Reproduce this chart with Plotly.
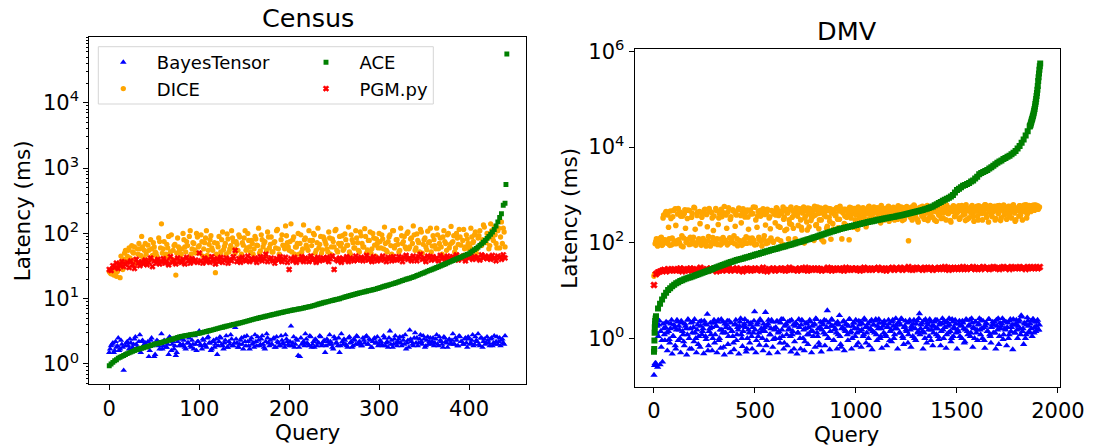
import plotly.graph_objects as go

W, H = 1093, 446

# ---------------- Census (queries 0..442) ----------------
census_query = list(range(0, 441, 2))
census_query_b = list(range(1, 440, 2))

census_bayestensor = [
    1.5, 1.9, 2.1, 1.6, 1.8, 2.5, 1.7, 2.0, 0.8, 1.9,
    2.2, 1.7, 2.1, 1.8, 2.4, 2.0, 1.6, 2.8, 2.2, 1.9,
    2.1, 1.8, 1.3, 2.3, 1.9, 1.3, 2.0, 2.2, 1.7, 2.9,
    1.9, 2.1, 1.8, 1.4, 2.5, 2.0, 1.7, 1.35, 2.2, 1.9,
    2.4, 2.0, 1.8, 2.6, 2.1, 1.9, 2.3, 1.7, 2.0, 2.2,
    3.2, 1.9, 2.4, 2.0, 1.8, 2.6, 2.1, 1.7, 2.3, 2.0,
    1.4, 2.2, 2.5, 1.9, 2.1, 2.7, 1.8, 2.0, 2.4, 1.9,
    3.6, 2.1, 1.8, 2.3, 2.0, 2.6, 1.9, 2.2, 1.7, 2.5,
    2.1, 2.8, 1.9, 2.3, 2.0, 2.7, 1.8, 2.2, 2.5, 1.9,
    2.0, 2.4, 1.8, 2.6, 2.1, 1.9, 2.3, 2.0, 2.8, 2.2,
    1.9, 3.8, 2.1, 1.8, 2.4, 1.35, 1.3, 2.0, 2.2, 2.9,
    2.1, 1.9, 2.6, 2.0, 1.8, 2.3, 2.1, 2.7, 1.9, 2.2,
    1.5, 2.4, 2.0, 2.2, 1.8, 2.6, 2.1, 1.9, 1.5, 2.9,
    2.0, 2.3, 1.9, 2.5, 2.1, 1.8, 2.4, 2.0, 2.6, 2.2,
    1.9, 2.5, 2.1, 2.7, 2.0, 2.3, 1.8, 2.4, 2.1, 2.6,
    2.0, 2.2, 1.9, 2.5, 2.1, 1.8, 3.2, 2.3, 2.0, 2.7,
    1.9, 2.4, 2.1, 2.6, 2.0, 1.7, 2.3, 3.3, 2.2, 1.9,
    3.0, 2.5, 2.1, 2.8, 2.0, 2.4, 1.9, 2.6, 2.2, 2.0,
    2.5, 2.1, 2.8, 1.9, 2.3, 2.0, 2.6, 2.2, 1.8, 2.4,
    2.1, 2.9, 2.0, 2.3, 1.9, 2.6, 2.2, 2.0, 2.5, 1.8,
    2.4, 2.1, 2.8, 2.0, 2.3, 2.9, 1.9, 2.5, 2.2, 2.0,
    2.6, 2.1, 2.4, 1.9, 2.7, 2.2, 2.0, 2.5, 2.3, 2.1,
    2.7,
]
census_bayestensor_b = [
    1.7, 2.0, 1.5, 2.2, 1.9, 1.6, 2.3, 1.8, 1.4, 2.1,
    1.9, 2.4, 1.7, 2.0, 2.6, 1.8, 2.2, 1.5, 2.3, 2.0,
    1.8, 2.2, 1.6, 2.5, 2.0, 1.4, 2.3, 1.9, 2.1, 1.7,
    2.3, 1.8, 2.0, 2.6, 1.6, 2.2, 1.9, 1.5, 2.4, 2.0,
    1.9, 2.3, 1.7, 2.1, 2.5, 1.8, 2.0, 2.7, 1.6, 2.2,
    2.0, 1.7, 2.3, 1.9, 2.5, 2.1, 1.6, 2.2, 1.8, 2.4,
    1.9, 2.6, 2.0, 1.7, 2.3, 1.8, 2.2, 2.8, 1.9, 2.1,
    2.4, 1.8, 2.0, 2.5, 1.7, 2.2, 2.7, 1.9, 2.3, 2.0,
    1.8, 2.2, 2.6, 1.9, 2.4, 2.0, 1.7, 2.9, 2.1, 2.3,
    2.0, 2.5, 1.8, 2.2, 1.9, 2.7, 2.1, 1.8, 2.4, 2.0,
    2.2, 1.9, 2.6, 2.0, 2.3, 1.8, 2.5, 2.1, 1.9, 2.4,
    2.0, 2.7, 1.8, 2.2, 2.4, 1.9, 2.1, 2.6, 2.0, 2.3,
    1.9, 2.2, 2.8, 2.0, 1.7, 2.4, 2.1, 2.5, 1.9, 2.2,
    2.4, 2.0, 1.8, 2.6, 2.2, 1.9, 2.3, 2.7, 2.0, 2.1,
    1.9, 2.3, 2.6, 2.0, 2.4, 1.8, 2.2, 2.5, 2.1, 1.9,
    2.3, 2.0, 2.7, 1.9, 2.2, 2.5, 2.0, 1.8, 2.4, 2.1,
    2.2, 2.6, 1.9, 2.3, 2.8, 2.1, 1.8, 2.4, 2.0, 2.5,
    2.1, 1.9, 2.4, 2.2, 2.7, 1.8, 2.3, 2.0, 2.5, 2.2,
    1.9, 2.4, 2.0, 2.6, 2.2, 1.8, 2.5, 2.1, 2.3, 2.0,
    2.3, 2.0, 2.5, 1.9, 2.7, 2.2, 2.0, 2.4, 2.1, 2.6,
    2.0, 2.3, 1.9, 2.6, 2.2, 2.0, 2.5, 1.8, 2.4, 2.1,
    2.3, 1.9, 2.5, 2.1, 2.0, 2.6, 2.2, 1.9, 2.4, 2.0,
]

census_dice = [
    26, 24, 28, 25, 22, 30, 21, 33, 40, 55,
    45, 60, 38, 52, 62, 35, 48, 58, 90, 42,
    70, 35, 55, 80, 46, 62, 50, 38, 75, 140,
    58, 44, 68, 90, 52, 40, 65, 23, 85, 55,
    48, 100, 62, 75, 42, 110, 58, 70, 50, 88,
    65, 95, 45, 72, 110, 55, 80, 60, 40, 25,
    70, 90, 52, 105, 63, 48, 82, 58, 110, 75,
    50, 68, 95, 44, 72, 85, 55, 100, 62, 78,
    48, 90, 66, 120, 54, 80, 70, 45, 105, 60,
    88, 52, 75, 110, 58, 42, 95, 65, 130, 72,
    55, 140, 80, 48, 62, 100, 70, 52, 135, 85,
    60, 110, 45, 78, 95, 55, 120, 68, 50, 88,
    75, 58, 105, 48, 82, 62, 115, 52, 90, 70,
    55, 98, 65, 125, 48, 80, 60, 110, 72, 52,
    92, 62, 118, 50, 78, 105, 58, 85, 45, 70,
    100, 60, 82, 125, 55, 75, 95, 48, 110, 65,
    80, 52, 120, 70, 90, 58, 105, 62, 85, 130,
    55, 98, 72, 115, 50, 80, 62, 108, 75, 52,
    92, 65, 120, 58, 85, 48, 110, 70, 95, 60,
    128, 75, 52, 100, 68, 88, 45, 115, 62, 82,
    58, 120, 72, 95, 50, 85, 110, 65, 135, 78,
    100, 58, 140, 85, 125, 70, 110, 60, 150, 120,
    62,
]
census_dice_b = [
    25, 27, 23, 29, 26, 35, 45, 28, 50, 38,
    55, 42, 65, 50, 40, 58, 70, 46, 62, 55,
    48, 66, 40, 58, 72, 52, 45, 85, 60, 50,
    75, 48, 60, 42, 95, 55, 68, 50, 62, 45,
    58, 80, 52, 65, 90, 48, 72, 56, 100, 62,
    50, 75, 58, 85, 46, 68, 92, 55, 72, 48,
    62, 45, 80, 56, 70, 98, 52, 65, 85, 58,
    75, 55, 88, 48, 66, 110, 60, 78, 52, 70,
    58, 82, 65, 50, 95, 62, 75, 55, 88, 68,
    52, 72, 60, 115, 48, 80, 66, 58, 92, 62,
    75, 52, 88, 62, 70, 48, 95, 58, 80, 66,
    55, 78, 65, 100, 50, 72, 60, 90, 56, 82,
    68, 52, 85, 62, 75, 110, 55, 70, 64, 92,
    58, 80, 66, 52, 95, 72, 60, 85, 55, 105,
    70, 62, 90, 56, 78, 50, 100, 66, 82, 60,
    75, 95, 58, 70, 52, 88, 65, 110, 60, 80,
    68, 55, 92, 75, 62, 100, 58, 82, 70, 95,
    60, 78, 52, 105, 68, 85, 56, 72, 120, 64,
    80, 58, 95, 70, 62, 88, 75, 55, 100, 68,
    72, 92, 60, 85, 115, 66, 78, 58, 95, 70,
    62, 88, 75, 105, 58, 92, 68, 80, 125, 72,
    85, 65, 110, 78, 95, 60, 120, 88, 70, 105,
]

census_pgmpy = [
    28, 27, 32, 30, 35, 29, 33, 37, 31, 34,
    36, 30, 38, 33, 29, 40, 35, 32, 37, 34,
    39, 33, 36, 42, 31, 38, 35, 40, 34, 37,
    41, 35, 38, 33, 44, 36, 39, 34, 42, 37,
    36, 40, 34, 43, 38, 35, 41, 37, 39, 36,
    50, 38, 35, 42, 37, 40, 36, 44, 39, 34,
    41, 37, 43, 36, 39, 42, 35, 40, 38, 44,
    55, 37, 41, 36, 43, 39, 38, 45, 37, 41,
    39, 42, 36, 40, 44, 38, 41, 48, 37, 40,
    42, 38, 35, 41, 39, 44, 37, 40, 43, 36,
    28, 41, 38, 43, 36, 40, 39, 44, 37, 42,
    40, 37, 45, 39, 41, 36, 43, 38, 40, 42,
    39, 43, 37, 41, 45, 28, 40, 38, 42, 36,
    41, 39, 44, 37, 42, 40, 38, 45, 39, 41,
    43, 38, 41, 46, 39, 42, 37, 44, 40, 38,
    42, 39, 45, 40, 37, 43, 41, 38, 44, 40,
    39, 44, 41, 37, 43, 46, 40, 42, 38, 45,
    41, 38, 44, 48, 40, 42, 37, 45, 43, 39,
    44, 40, 42, 38, 46, 41, 43, 39, 45, 42,
    40, 44, 42, 47, 39, 43, 41, 45, 38, 44,
    42, 46, 40, 44, 41, 43, 39, 47, 42, 45,
    41, 44, 40, 46, 42, 38, 45, 43, 40, 47,
    42,
]

census_ace = [
    0.94, 1.0, 1.06, 1.12, 1.16, 1.23, 1.27, 1.31, 1.35, 1.39,
    1.44, 1.48, 1.52, 1.56, 1.60, 1.65, 1.68, 1.71, 1.74, 1.77,
    1.81, 1.84, 1.88, 1.92, 1.96, 2.0, 2.04, 2.07, 2.1, 2.13,
    2.18, 2.22, 2.26, 2.30, 2.35, 2.39, 2.44, 2.49, 2.54, 2.6,
    2.64, 2.67, 2.71, 2.74, 2.77, 2.8, 2.83, 2.86, 2.89, 2.92,
    2.95, 3.0, 3.05, 3.1, 3.15, 3.2, 3.25, 3.3, 3.36, 3.42,
    3.48, 3.54, 3.6, 3.66, 3.72, 3.78, 3.84, 3.9, 3.96, 4.02,
    4.08, 4.14, 4.2, 4.27, 4.34, 4.42, 4.5, 4.58, 4.66, 4.74,
    4.82, 4.9, 4.98, 5.06, 5.14, 5.22, 5.3, 5.38, 5.46, 5.55,
    5.63, 5.72, 5.8, 5.89, 5.98, 6.07, 6.16, 6.25, 6.34, 6.42,
    6.5, 6.6, 6.7, 6.78, 6.86, 6.94, 7.02, 7.12, 7.22, 7.32,
    7.42, 7.52, 7.62, 7.75, 7.9, 8.05, 8.2, 8.35, 8.5, 8.65,
    8.8, 8.95, 9.1, 9.25, 9.4, 9.55, 9.7, 9.85, 10.0, 10.2,
    10.4, 10.6, 10.8, 11.0, 11.2, 11.4, 11.6, 11.8, 12.0, 12.2,
    12.4, 12.6, 12.8, 13.0, 13.2, 13.4, 13.6, 13.8, 14.0, 14.3,
    14.6, 14.9, 15.2, 15.5, 15.8, 16.1, 16.4, 16.7, 17.0, 17.4,
    17.8, 18.2, 18.6, 19.0, 19.4, 19.8, 20.2, 20.6, 21.0, 21.5,
    22.0, 22.6, 23.2, 23.8, 24.4, 25.0, 25.7, 26.4, 27.1, 27.8,
    28.5, 29.3, 30.1, 30.9, 31.7, 32.5, 33.4, 34.3, 35.3, 36.3,
    37.3, 38.4, 39.5, 40.6, 41.7, 42.8, 44.0, 45.2, 46.4, 47.7,
    49, 51.5, 54, 56.5, 59, 62, 65.5, 69, 73, 78,
    84, 90, 97, 105, 115, 130, 150, 175, 200, 270,
    290,
]
census_ace_tail_query = [441, 442]
census_ace_tail = [560, 56000]

# ---------------- DMV (queries 0..1912) ----------------
dmv_scatter_query = list(range(0, 1909, 6))
dmv_scatter_query_b = list(range(3, 1906, 6))

dmv_bayestensor = [
    0.17, 0.3, 1.3, 0.25, 1.9, 0.28, 0.65, 0.32, 1.6, 0.9,
    2.2, 0.55, 1.4, 0.8, 2.0, 0.47, 1.1, 1.7, 0.6, 2.4,
    0.9, 1.5, 0.5, 2.1, 1.2, 0.7, 1.8, 0.45, 2.5, 1.0,
    1.6, 0.6, 2.2, 0.85, 1.3, 0.5, 1.9, 1.1, 0.65, 2.3,
    1.4, 0.48, 2.0, 0.95, 3.2, 0.7, 1.6, 1.2, 0.55, 2.1,
    0.8, 1.8, 0.5, 2.4, 1.0, 0.62, 1.5, 2.2, 0.45, 1.3,
    1.9, 0.75, 2.3, 0.5, 1.4, 1.1, 0.58, 2.0, 0.9, 1.7,
    0.47, 2.2, 1.2, 0.68, 1.8, 2.5, 0.52, 1.0, 1.5, 0.8,
    2.1, 0.6, 1.3, 3.6, 0.5, 1.9, 1.1, 0.72, 2.3, 1.4,
    0.55, 1.7, 3.5, 0.9, 2.0, 0.48, 1.2, 2.4, 0.65, 1.6,
    1.0, 2.2, 0.5, 1.4, 0.8, 2.5, 1.1, 0.6, 1.8, 2.0,
    0.7, 1.5, 2.3, 0.52, 1.2, 1.9, 0.85, 2.1, 0.47, 1.3,
    1.7, 0.6, 2.4, 1.0, 0.55, 1.6, 2.0, 0.75, 1.2, 2.2,
    0.5, 1.4, 1.9, 0.65, 2.5, 1.1, 0.8, 1.7, 0.52, 2.1,
    1.3, 0.7, 2.3, 3.8, 1.0, 0.58, 1.8, 2.4, 0.9, 1.5,
    2.0, 0.6, 1.2, 3.0, 0.75, 1.6, 2.2, 0.55, 1.4, 1.9,
    0.9, 2.5, 1.3, 0.6, 1.8, 2.1, 1.1, 0.7, 1.6, 2.3,
    1.4, 0.65, 2.0, 1.2, 2.4, 0.8, 1.7, 1.0, 2.2, 1.5,
    0.58, 1.9, 1.3, 2.5, 0.9, 1.6, 2.1, 1.1, 0.62, 1.8,
    2.3, 1.2, 0.7, 1.7, 2.0, 1.4, 0.85, 2.4, 1.0, 1.6,
    1.9, 0.6, 2.2, 1.3, 2.6, 1.1, 0.75, 1.8, 1.5, 2.1,
    1.2, 2.4, 0.65, 1.7, 2.0, 1.0, 0.9, 2.3, 1.4, 3.3,
    1.6, 2.1, 0.6, 1.3, 2.5, 0.8, 1.9, 1.1, 2.2, 1.5,
    0.7, 1.8, 2.4, 1.2, 1.6, 0.95, 2.1, 1.4, 2.6, 1.0,
    1.7, 0.62, 2.2, 1.3, 1.9, 0.85, 2.5, 1.1, 1.6, 2.0,
    0.6, 1.4, 2.3, 1.8, 1.0, 2.1, 0.8, 1.5, 2.4, 1.2,
    1.9, 1.1, 2.6, 0.65, 1.6, 2.2, 1.3, 0.9, 2.0, 1.5,
    2.4, 1.0, 1.7, 0.62, 2.1, 1.4, 2.5, 1.2, 0.8, 1.9,
    1.3, 2.2, 0.6, 1.8, 2.6, 1.1, 1.6, 2.0, 0.95, 2.3,
    1.5, 0.7, 2.1, 1.2, 2.5, 1.7, 0.58, 1.9, 1.3, 2.4,
    1.0, 2.2, 1.6, 3.0, 1.4, 0.75, 2.0, 1.2, 2.7, 1.8,
    1.3, 2.3, 1.1, 2.5, 1.7, 1.4, 2.2, 1.5, 1.9,
]
dmv_bayestensor_b = [
    0.27, 0.3, 1.8, 1.1, 2.3, 1.4, 0.9, 2.0, 1.2, 1.7,
    1.3, 2.1, 0.95, 1.6, 2.4, 1.1, 1.9, 0.7, 1.5, 2.2,
    1.8, 1.0, 2.3, 1.4, 0.85, 2.0, 1.6, 1.2, 2.4, 0.6,
    2.1, 1.3, 1.7, 2.5, 1.0, 1.5, 0.75, 2.2, 1.8, 1.2,
    1.6, 2.3, 1.1, 1.9, 0.55, 1.4, 2.1, 1.7, 1.0, 2.4,
    1.2, 1.8, 2.2, 0.9, 1.5, 2.5, 1.3, 0.65, 2.0, 1.7,
    2.3, 1.1, 1.6, 2.1, 1.4, 0.8, 1.9, 2.4, 1.2, 1.5,
    1.8, 2.6, 1.0, 1.4, 2.0, 1.7, 0.6, 2.2, 1.3, 1.9,
    1.1, 1.7, 2.3, 1.5, 0.9, 2.1, 1.3, 2.5, 1.6, 1.0,
    2.0, 1.4, 0.7, 1.8, 2.4, 1.2, 1.6, 2.2, 0.95, 1.5,
    1.7, 2.3, 1.3, 1.0, 2.1, 1.5, 2.5, 0.8, 1.9, 1.2,
    2.2, 1.6, 1.1, 2.4, 1.4, 0.6, 1.8, 2.0, 1.3, 2.5,
    1.0, 1.9, 2.3, 1.5, 0.85, 2.1, 1.2, 1.7, 2.4, 1.4,
    1.8, 1.1, 2.0, 2.6, 1.3, 1.6, 0.7, 2.2, 1.5, 1.9,
    2.4, 1.2, 1.7, 1.0, 2.1, 1.4, 2.5, 1.8, 0.9, 1.6,
    1.3, 2.2, 1.9, 1.1, 0.65, 1.7, 2.3, 1.5, 2.0, 1.2,
    1.8, 2.5, 1.4, 1.0, 2.1, 1.6, 2.4, 1.3, 0.8, 1.9,
    2.2, 1.5, 1.1, 2.6, 1.7, 1.3, 2.0, 0.7, 1.6, 2.4,
    1.4, 1.9, 2.3, 1.2, 1.8, 2.5, 1.0, 1.6, 2.1, 1.3,
    2.0, 1.1, 1.7, 2.4, 0.9, 1.5, 2.2, 1.8, 1.2, 2.6,
    1.6, 2.1, 1.3, 1.9, 2.5, 1.0, 1.7, 2.3, 1.4, 0.8,
    2.2, 1.5, 1.8, 1.1, 2.4, 1.6, 2.0, 1.3, 2.6, 1.2,
    1.9, 1.4, 2.3, 1.0, 1.7, 2.1, 1.5, 2.5, 0.9, 1.8,
    1.3, 2.2, 1.6, 2.4, 1.1, 1.9, 0.7, 2.0, 1.5, 2.3,
    2.1, 1.2, 1.8, 2.6, 1.4, 1.0, 2.2, 1.7, 2.4, 1.3,
    1.5, 2.0, 1.1, 1.9, 2.3, 1.6, 0.85, 2.5, 1.4, 1.8,
    2.4, 1.3, 2.1, 1.7, 1.0, 2.2, 1.5, 1.9, 2.6, 1.2,
    1.6, 2.3, 0.9, 1.8, 2.0, 1.4, 2.5, 1.1, 1.7, 2.2,
    1.9, 1.3, 2.4, 1.5, 0.75, 2.1, 1.8, 2.6, 1.2, 1.6,
    2.2, 1.7, 1.0, 2.3, 1.4, 1.9, 2.5, 1.3, 2.0, 1.5,
    1.8, 2.4, 1.2, 2.8, 1.6, 2.1, 1.0, 1.9, 2.3, 1.4,
    2.0, 1.6, 2.5, 1.3, 2.2, 1.8, 2.4, 1.5,
]

dmv_dice = [
    20, 95, 120, 85, 110, 100, 130, 90, 380, 115,
    450, 105, 210, 88, 320, 125, 470, 95, 230, 110,
    520, 100, 360, 140, 82, 410, 200, 115, 480, 92,
    130, 340, 105, 550, 190, 98, 430, 120, 250, 88,
    390, 112, 500, 85, 215, 135, 460, 102, 330, 180,
    95, 520, 120, 240, 410, 90, 350, 128, 570, 105,
    200, 440, 98, 310, 118, 490, 140, 220, 380, 86,
    530, 110, 260, 420, 95, 345, 132, 480, 190, 100,
    400, 125, 560, 90, 300, 210, 450, 115, 360, 85,
    510, 140, 235, 430, 100, 330, 195, 470, 108, 400,
    260, 540, 118, 370, 210, 460, 92, 310, 180, 500,
    420, 120, 250, 560, 340, 200, 480, 105, 390, 230,
    510, 300, 185, 450, 98, 360, 270, 530, 215, 410,
    330, 470, 112, 380, 240, 560, 195, 420, 300, 500,
    105, 440, 350, 220, 520, 280, 118, 460, 190, 400,
    370, 540, 205, 310, 480, 120, 420, 250, 500, 340,
    460, 115, 380, 530, 220, 410, 300, 490, 190, 360,
    440, 280, 520, 350, 470, 215, 400, 560, 310, 450,
    370, 500, 290, 430, 540, 330, 470, 260, 410, 520,
    300, 460, 390, 550, 280, 420, 500, 340, 480, 370,
    530, 310, 450, 400, 560, 290, 470, 360, 510, 430,
    110, 380, 520, 300, 460, 580, 340, 490, 270, 440,
    500, 360, 560, 310, 470, 420, 290, 530, 390, 480,
    340, 550, 450, 280, 510, 380, 600, 320, 470, 430,
    560, 300, 490, 410, 530, 270, 460, 590, 350, 500,
    420, 540, 310, 480, 600, 380, 450, 290, 520, 470,
    330, 500, 570, 400, 280, 540, 460, 360, 590, 430,
    510, 300, 470, 620, 390, 520, 270, 480, 560, 350,
    450, 580, 320, 500, 410, 600, 290, 530, 470, 380,
    540, 310, 490, 570, 430, 330, 600, 460, 280, 520,
    480, 360, 590, 440, 300, 550, 470, 620, 400, 510,
    570, 450, 600, 520, 480, 610, 540, 500, 560,
]
dmv_dice_b = [
    22, 105, 92, 118, 100, 125, 88, 330, 112, 420,
    98, 380, 120, 460, 90, 350, 108, 510, 95, 400,
    115, 440, 86, 360, 125, 490, 102, 320, 118, 470,
    94, 410, 130, 530, 88, 370, 112, 450, 100, 340,
    122, 480, 96, 390, 110, 520, 85, 430, 128, 360,
    104, 470, 92, 330, 118, 500, 99, 420, 114, 380,
    90, 540, 126, 350, 102, 460, 95, 400, 120, 490,
    108, 370, 88, 510, 116, 430, 97, 345, 124, 480,
    100, 405, 112, 550, 92, 360, 130, 470, 106, 420,
    118, 390, 96, 500, 110, 350, 125, 460, 102, 440,
    380, 520, 220, 450, 110, 410, 560, 340, 480, 190,
    430, 300, 510, 240, 470, 390, 120, 540, 360, 450,
    500, 210, 420, 560, 330, 470, 185, 400, 520, 290,
    440, 360, 580, 230, 490, 410, 300, 530, 115, 460,
    380, 550, 200, 470, 340, 510, 420, 250, 490, 370,
    530, 310, 460, 580, 195, 440, 500, 360, 230, 480,
    410, 550, 330, 470, 210, 520, 390, 460, 560, 300,
    480, 350, 540, 420, 500, 300, 460, 580, 390, 510,
    440, 560, 320, 490, 410, 530, 370, 600, 450, 340,
    520, 400, 470, 580, 330, 500, 430, 550, 300, 480,
    410, 590, 360, 510, 460, 540, 310, 490, 570, 420,
    500, 340, 560, 450, 610, 390, 520, 300, 480, 550,
    430, 580, 370, 500, 460, 600, 320, 540, 410, 490,
    560, 300, 520, 440, 590, 380, 500, 460, 330, 570,
    480, 610, 410, 530, 290, 500, 450, 580, 360, 520,
    440, 590, 330, 510, 470, 560, 400, 620, 310, 490,
    530, 420, 600, 350, 500, 460, 580, 300, 540, 480,
    410, 570, 490, 620, 340, 520, 450, 600, 380, 510,
    560, 300, 480, 590, 430, 540, 330, 500, 610, 460,
    520, 400, 580, 350, 550, 490, 620, 420, 300, 530,
    470, 590, 380, 560, 500, 610, 440, 330, 540, 600,
    520, 580, 490, 610, 550, 500, 590, 530,
]

dmv_pgm_query = list(range(0, 1911, 10))
dmv_pgmpy = [
    13, 22, 24, 25, 26, 27, 25, 28, 26, 27,
    28, 26, 27, 29, 25, 28, 27, 26, 29, 27,
    26, 28, 27, 30, 25, 27, 28, 26, 29, 27,
    28, 25, 27, 29, 26, 28, 27, 30, 26, 28,
    27, 29, 26, 28, 25, 27, 29, 28, 26, 27,
    29, 27, 28, 26, 30, 27, 25, 28, 27, 29,
    26, 28, 27, 29, 28, 26, 27, 30, 28, 27,
    28, 26, 29, 27, 28, 30, 26, 27, 29, 28,
    27, 29, 28, 26, 28, 27, 30, 28, 26, 29,
    28, 27, 29, 28, 26, 30, 27, 28, 29, 27,
    29, 28, 26, 28, 30, 27, 29, 28, 27, 29,
    28, 30, 27, 29, 28, 26, 29, 28, 30, 27,
    29, 28, 30, 27, 29, 28, 31, 28, 27, 29,
    30, 28, 29, 27, 30, 29, 28, 30, 27, 29,
    28, 30, 29, 28, 31, 29, 27, 30, 29, 28,
    30, 29, 28, 31, 29, 28, 30, 29, 31, 28,
    29, 30, 28, 31, 29, 30, 28, 29, 31, 30,
    29, 28, 30, 31, 29, 30, 28, 31, 30, 29,
    30, 31, 29, 30, 28, 31, 30, 29, 31, 30,
    29, 31,
]

dmv_ace_query = [0, 1, 2, 3, 4, 5, 6, 8] + list(range(10, 1851, 10)) + list(range(1860, 1913, 2))
dmv_ace = [
    0.52, 0.6, 0.9, 1.3, 1.7, 2.0, 2.3, 2.6,
    2.9, 4.2, 5.3, 6.5, 7.8, 9.0, 10.2, 11.2, 12.3, 13.2,
    14.1, 14.9, 15.7, 16.4, 17.1, 17.8, 18.4, 19.0, 19.6, 20.3,
    21.0, 21.8, 22.6, 23.5, 24.5, 25.4, 26.3, 27.3, 28.3, 29.4,
    30.5, 31.7, 32.9, 34.1, 35.4, 36.7, 38.0, 39.3, 40.6, 42.0,
    43.2, 44.4, 45.6, 46.9, 48.2, 49.6, 51.0, 52.5, 54.0, 55.6,
    57.3, 59.0, 60.8, 62.6, 64.4, 66.2, 68.0, 69.9, 71.8, 73.8,
    75.8, 77.9, 80.0, 82.2, 84.5, 87.0, 89.5, 92.0, 94.8, 97.6,
    100.5, 103.5, 106.5, 109.5, 112.5, 116, 120, 124, 128, 132,
    136, 141, 146, 151, 156, 161, 166, 171, 176, 182,
    187, 193, 198, 204, 209, 214, 219, 224, 229, 234,
    240, 246, 252, 258, 264, 270, 276, 282, 288, 295,
    301, 307, 313, 319, 325, 331, 337, 343, 349, 356,
    364, 372, 381, 390, 399, 408, 418, 428, 438, 448,
    460, 472, 485, 498, 513, 530, 550, 575, 605, 640,
    675, 710, 750, 790, 830, 875, 930, 1000, 1120, 1260,
    1350, 1450, 1550, 1620, 1700, 1780, 1900, 2000, 2190, 2400,
    2690, 2880, 3020, 3160, 3310, 3550, 3800, 4070, 4370, 4680,
    5010, 5250, 5620, 5890, 6310, 6610, 7080, 7590, 8320, 9330,
    10500, 12300, 14500, 17400, 21400,
    27000, 28000, 29500, 31600, 33900, 36300, 38900, 41700, 44700, 47900,
    52500, 57500, 63000, 70800, 79400, 89100, 102000, 117000, 135000, 158000,
    190000, 240000, 288000, 347000, 417000, 490000, 562000,
]

# ---------------- tick labels ----------------
census_xticks = [0, 100, 200, 300, 400]
census_yticks = [1, 10, 100, 1000, 10000]
census_yticktext = ["10<sup>0</sup>", "10<sup>1</sup>", "10<sup>2</sup>", "10<sup>3</sup>", "10<sup>4</sup>"]
dmv_xticks = [0, 500, 1000, 1500, 2000]
dmv_yticks = [1, 100, 10000, 1000000]
dmv_yticktext = ["10<sup>0</sup>", "10<sup>2</sup>", "10<sup>4</sup>", "10<sup>6</sup>"]

pairs = [
    (census_query, census_bayestensor), (census_query_b, census_bayestensor_b),
    (census_query, census_dice), (census_query_b, census_dice_b),
    (census_query, census_pgmpy), (census_query, census_ace),
    (census_ace_tail_query, census_ace_tail),
    (dmv_scatter_query, dmv_bayestensor), (dmv_scatter_query_b, dmv_bayestensor_b),
    (dmv_scatter_query, dmv_dice), (dmv_scatter_query_b, dmv_dice_b),
    (dmv_pgm_query, dmv_pgmpy), (dmv_ace_query, dmv_ace),
]
for i, (a, b) in enumerate(pairs):
    if len(a) != len(b):
        raise ValueError(f"length mismatch in pair {i}: {len(a)} vs {len(b)}")

FONT = "DejaVu Sans"
BLUE, ORANGE, GREEN, RED = "#0000ff", "#ffa500", "#008000", "#ff0000"
STY = {
    "BayesTensor": dict(color=BLUE, symbol="triangle-up", size=5.8, line=dict(width=0)),
    "DICE": dict(color=ORANGE, symbol="circle", size=5.3, line=dict(width=0)),
    "PGM.py": dict(color=RED, symbol="x", size=5, line=dict(width=0.7, color=RED)),
    "ACE": dict(color=GREEN, symbol="square", size=4.9, line=dict(width=0)),
}


def fx(px):
    return px / W


def fy(py):
    return 1 - py / H


fig = go.Figure()


def add(x, y, name, xa, ya, legend="legend", show=False, size=None):
    mk = dict(STY[name])
    if size is not None:
        mk["size"] = size
    fig.add_trace(go.Scatter(
        x=x, y=y, mode="markers", name=name, marker=mk,
        xaxis=xa, yaxis=ya, legend=legend, showlegend=show, hoverinfo="skip",
    ))


# Census
add(census_query, census_bayestensor, "BayesTensor", "x", "y", "legend", True)
add(census_query_b, census_bayestensor_b, "BayesTensor", "x", "y")
add(census_query, census_dice, "DICE", "x", "y", "legend", True)
add(census_query_b, census_dice_b, "DICE", "x", "y")
add(census_query, census_pgmpy, "PGM.py", "x", "y", "legend2", True)
add(census_query, census_ace, "ACE", "x", "y", "legend2", True)
add(census_ace_tail_query, census_ace_tail, "ACE", "x", "y", "legend2", False)
# DMV
add(dmv_scatter_query, dmv_bayestensor, "BayesTensor", "x2", "y2", size=6.5)
add(dmv_scatter_query_b, dmv_bayestensor_b, "BayesTensor", "x2", "y2", size=6.5)
add(dmv_scatter_query, dmv_dice, "DICE", "x2", "y2", size=5.6)
add(dmv_scatter_query_b, dmv_dice_b, "DICE", "x2", "y2", size=5.6)
add(dmv_pgm_query, dmv_pgmpy, "PGM.py", "x2", "y2", size=5.8)
add(dmv_ace_query, dmv_ace, "ACE", "x2", "y2", size=6)

axis_common = dict(
    showline=True, linecolor="black", linewidth=1, mirror=True,
    ticks="outside", ticklen=5, tickwidth=1, tickcolor="black",
    showgrid=False, zeroline=False, automargin=False,
    tickfont=dict(family=FONT, size=21, color="black"),
)

legend_common = dict(
    xanchor="left", yanchor="top", bgcolor="rgba(0,0,0,0)", borderwidth=0,
    font=dict(family=FONT, size=18, color="black"), itemwidth=57,
    tracegroupgap=0, orientation="v",
)

fig.update_layout(
    template="none",
    width=W, height=H, autosize=False,
    margin=dict(l=0, r=0, t=0, b=0, pad=0, autoexpand=False),
    paper_bgcolor="white", plot_bgcolor="white",
    showlegend=True,
    xaxis=dict(axis_common, domain=[fx(89.3), fx(526)], range=[-22.2, 463.3],
               tickmode="array", tickvals=census_xticks, anchor="y"),
    yaxis=dict(axis_common, domain=[fy(384.3), fy(37.3)], type="log", range=[-0.311, 5.003],
               tickmode="array", tickvals=census_yticks, ticktext=census_yticktext, anchor="x",
               minor=dict(ticks="outside", ticklen=2.8, tickwidth=0.8, tickcolor="black",
                          dtick="D1", showgrid=False)),
    xaxis2=dict(axis_common, domain=[fx(634.6), fx(1059.8)], range=[-96, 2009],
                tickmode="array", tickvals=dmv_xticks, anchor="y2"),
    yaxis2=dict(axis_common, domain=[fy(386.7), fy(49.3)], type="log", range=[-1.013, 6.046],
                tickmode="array", tickvals=dmv_yticks, ticktext=dmv_yticktext, anchor="x2"),
    legend=dict(legend_common, x=fx(89.8), y=fy(44)),
    legend2=dict(legend_common, x=fx(292.5), y=fy(44), traceorder="reversed"),
    shapes=[dict(type="rect", xref="paper", yref="paper",
                 x0=fx(98.3), x1=fx(433.3), y0=fy(104), y1=fy(46.7),
                 line=dict(color="#d5d5d5", width=1), fillcolor="rgba(255,255,255,0.8)",
                 layer="above")],
    annotations=[
        dict(text="Census", x=fx(307.65), y=fy(35.5), xref="paper", yref="paper",
             xanchor="center", yanchor="bottom", showarrow=False,
             font=dict(family=FONT, size=25.5, color="black")),
        dict(text="DMV", x=fx(847.2), y=fy(47.5), xref="paper", yref="paper",
             xanchor="center", yanchor="bottom", showarrow=False,
             font=dict(family=FONT, size=25.5, color="black")),
        dict(text="Query", x=fx(307.65), y=fy(432), xref="paper", yref="paper",
             xanchor="center", yanchor="middle", showarrow=False,
             font=dict(family=FONT, size=21.5, color="black")),
        dict(text="Query", x=fx(847.2), y=fy(434.5), xref="paper", yref="paper",
             xanchor="center", yanchor="middle", showarrow=False,
             font=dict(family=FONT, size=21.5, color="black")),
        dict(text="Latency (ms)", x=fx(22.4), y=fy(210.8), xref="paper", yref="paper",
             xanchor="center", yanchor="middle", showarrow=False, textangle=-90,
             font=dict(family=FONT, size=21.5, color="black")),
        dict(text="Latency (ms)", x=fx(568.7), y=fy(218), xref="paper", yref="paper",
             xanchor="center", yanchor="middle", showarrow=False, textangle=-90,
             font=dict(family=FONT, size=21.5, color="black")),
    ],
)

fig.write_html("out.html", config={"displayModeBar": False},
               post_script="document.body.style.margin='0';document.body.style.overflow='hidden';")
